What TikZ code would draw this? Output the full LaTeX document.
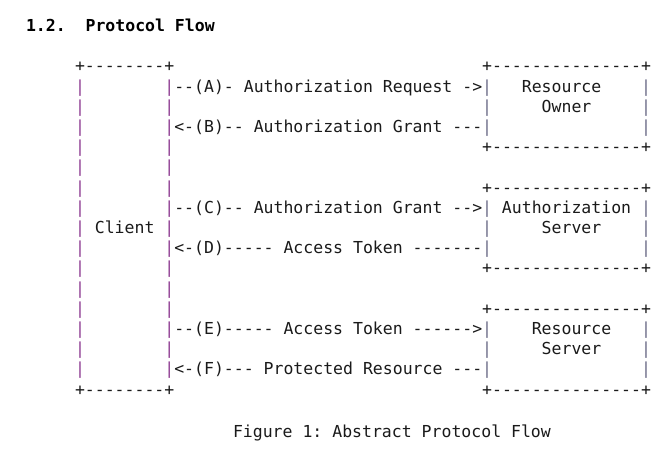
\documentclass[tikz,border=0pt]{standalone}
\usepackage{fontspec}
\newfontfamily\mono{DejaVu Sans Mono}
\definecolor{txt}{HTML}{1A1A1A}
\definecolor{cbar}{HTML}{8E3C92}
\definecolor{sbar}{HTML}{6A6A86}
\tikzset{
  ch/.style={anchor=base west, inner sep=0pt, outer sep=0pt,
    font=\mono\fontsize{16.5}{20}\selectfont\frenchspacing, text=txt},
  cbarst/.style={ch, text=cbar},
  sbarst/.style={ch, text=sbar},
  titlest/.style={ch, font=\mono\bfseries\fontsize{16.5}{20}\selectfont\frenchspacing, text=black},
}
% column left edge and row baseline (image pixel coordinates, y downward)
\newcommand\colx[1]{75+9.93*#1}
\newcommand\rowy[1]{72+20.19*#1}
\begin{document}
\begin{tikzpicture}[x=1pt,y=-1pt]
\useasboundingbox (0,0) rectangle (661,454);
\fill[white] (0,0) rectangle (661,454);
% title
\node[titlest] (title) at (26,31.5) {1.2.\ \ Protocol Flow};
% client box
\node[ch] (ctop) at ({\colx{0}},{\rowy{0}}) {+--------+};
\node[ch] (cbot) at ({\colx{0}},{\rowy{16}}) {+--------+};
\foreach \r in {1,...,15}{
  \node[cbarst] (cl\r) at ({\colx{0}},{\rowy{\r}}) {|};
  \node[cbarst] (cr\r) at ({\colx{9}},{\rowy{\r}}) {|};
}
\node[ch] (client) at ({\colx{2}},{\rowy{8}}) {Client};
% server boxes
\foreach \r/\n in {0/rotop,4/robot,6/astop,10/asbot,12/rstop,16/rsbot}{
  \node[ch] (\n) at ({\colx{41}},{\rowy{\r}}) {+---------------+};
}
\foreach \r in {1,2,3,7,8,9,13,14,15}{
  \node[sbarst] (sl\r) at ({\colx{41}},{\rowy{\r}}) {|};
  \node[sbarst] (sr\r) at ({\colx{57}},{\rowy{\r}}) {|};
}
\node[ch] (ro1) at ({\colx{45}},{\rowy{1}}) {Resource};
\node[ch] (ro2) at ({\colx{47}},{\rowy{2}}) {Owner};
\node[ch] (as1) at ({\colx{43}},{\rowy{7}}) {Authorization};
\node[ch] (as2) at ({\colx{47}},{\rowy{8}}) {Server};
\node[ch] (rs1) at ({\colx{46}},{\rowy{13}}) {Resource};
\node[ch] (rs2) at ({\colx{47}},{\rowy{14}}) {Server};
% flows
\node[ch] (fa) at ({\colx{10}},{\rowy{1}}) {--(A)- Authorization Request ->};
\node[ch] (fb) at ({\colx{10}},{\rowy{3}}) {<-(B)-- Authorization Grant ---};
\node[ch] (fc) at ({\colx{10}},{\rowy{7}}) {--(C)-- Authorization Grant -->};
\node[ch] (fd) at ({\colx{10}},{\rowy{9}}) {<-(D)----- Access Token -------};
\node[ch] (fe) at ({\colx{10}},{\rowy{13}}) {--(E)----- Access Token ------>};
\node[ch] (ff) at ({\colx{10}},{\rowy{15}}) {<-(F)--- Protected Resource ---};
% caption
\node[ch] (caption) at (233,437) {Figure 1: Abstract Protocol Flow};
\end{tikzpicture}
\end{document}
